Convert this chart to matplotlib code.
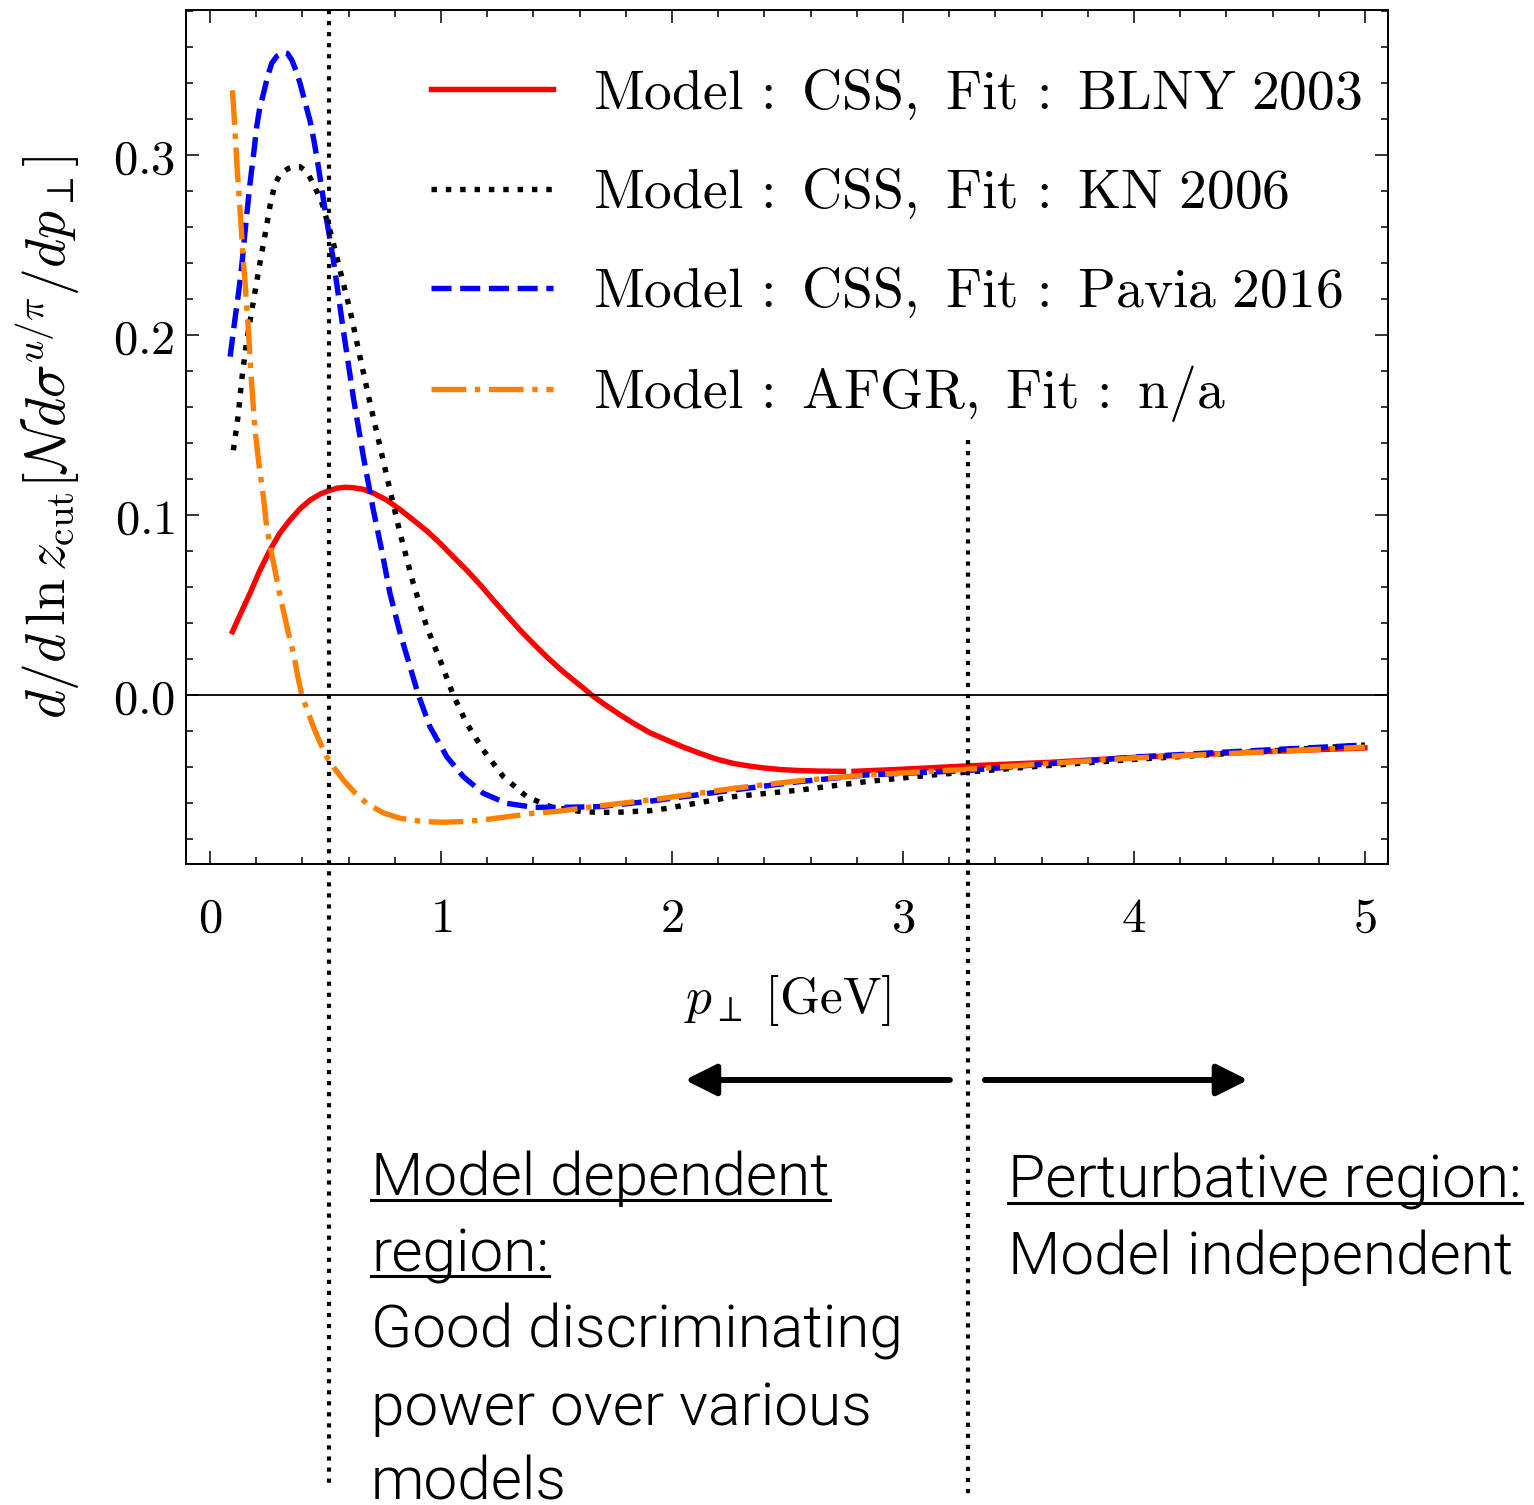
import matplotlib
matplotlib.use('Agg')
import matplotlib.pyplot as plt
from matplotlib import font_manager
from matplotlib.lines import Line2D

# values
x_blny_a = [0.097, 0.135, 0.173, 0.215, 0.26, 0.30, 0.346, 0.39, 0.433, 0.475, 0.512, 0.55,
            0.584, 0.62, 0.664, 0.71, 0.765, 0.82, 0.88, 0.94, 0.996, 1.05, 1.111, 1.17,
            1.226, 1.285, 1.342, 1.40, 1.457, 1.515, 1.573, 1.615, 1.652, 1.70, 1.775,
            1.833, 1.905, 1.977, 2.05, 2.121, 2.19, 2.265, 2.34, 2.41, 2.48, 2.554, 2.65,
            2.742]
y_blny_a = [0.0352, 0.0460, 0.0565, 0.069, 0.0806, 0.0895, 0.0972, 0.1035, 0.1083, 0.1115,
            0.1135, 0.1149, 0.1154, 0.1152, 0.1143, 0.1120, 0.1083, 0.1033, 0.0972, 0.0910,
            0.0843, 0.0772, 0.0694, 0.0612, 0.0528, 0.0443, 0.0361, 0.0285, 0.0213, 0.0145,
            0.0083, 0.0040, 0.0, -0.0045, -0.011, -0.0157, -0.021, -0.025, -0.029, -0.0324,
            -0.0355, -0.038, -0.0396, -0.0407, -0.0415, -0.042, -0.0423, -0.0424]
x_blny_b = [2.788, 2.987, 3.276, 3.636, 4.0, 4.5, 5.0]
y_blny_b = [-0.0424, -0.0413, -0.0394, -0.0374, -0.0347, -0.0318, -0.0294]

x_kn = [0.101, 0.112, 0.123, 0.137, 0.159, 0.188, 0.216, 0.24, 0.26, 0.28, 0.30, 0.32,
        0.339, 0.36, 0.39, 0.42, 0.447, 0.483, 0.527, 0.563, 0.606, 0.649, 0.693, 0.736,
        0.779, 0.823, 0.88, 0.938, 0.996, 1.053, 1.111, 1.183, 1.27, 1.371, 1.472, 1.56,
        1.616, 1.688, 1.76, 1.905, 1.977, 2.265, 2.554, 2.843, 3.131, 3.564, 4.0, 4.5, 5.0]
y_kn = [0.136, 0.146, 0.1565, 0.175, 0.197, 0.219, 0.240, 0.257, 0.272, 0.2835, 0.2885,
        0.291, 0.2925, 0.2935, 0.2935, 0.2905, 0.284, 0.274, 0.2546, 0.236, 0.2139, 0.188,
        0.162, 0.138, 0.1139, 0.0898, 0.062, 0.038, 0.0194, 0.0, -0.0157, -0.0306,
        -0.0454, -0.0565, -0.062, -0.0640, -0.0648, -0.0652, -0.0652, -0.0643, -0.063,
        -0.0565, -0.0528, -0.0481, -0.0444, -0.0398, -0.0358, -0.0318, -0.0278]

x_pavia = [0.087, 0.105, 0.123, 0.137, 0.155, 0.173, 0.19, 0.202, 0.215, 0.231, 0.25, 0.267,
           0.29, 0.317, 0.335, 0.354, 0.372, 0.39, 0.41, 0.433, 0.45, 0.469, 0.498, 0.534,
           0.577, 0.62, 0.664, 0.707, 0.743, 0.779, 0.823, 0.866, 0.902, 0.952, 1.025,
           1.097, 1.183, 1.284, 1.40, 1.544, 1.688, 1.905, 2.265, 2.554, 2.843, 3.276,
           3.564, 4.0, 4.5, 5.0]
y_pavia = [0.188, 0.206, 0.223, 0.238, 0.262, 0.284, 0.302, 0.3157, 0.326, 0.334, 0.344,
           0.351, 0.355, 0.357, 0.3565, 0.3528, 0.347, 0.3398, 0.330, 0.319, 0.308, 0.2935,
           0.2694, 0.2417, 0.2028, 0.1657, 0.1324, 0.1028, 0.0806, 0.0565, 0.0343, 0.0157,
           0.0, -0.0176, -0.0343, -0.0454, -0.0546, -0.0602, -0.0624, -0.0624, -0.062,
           -0.059, -0.0528, -0.0481, -0.0444, -0.042, -0.0389, -0.0345, -0.031, -0.0278]

x_afgr = [0.097, 0.108, 0.118, 0.13, 0.144, 0.152, 0.166, 0.18, 0.195, 0.213, 0.231, 0.245,
          0.263, 0.281, 0.299, 0.317, 0.339, 0.361, 0.379, 0.397, 0.42, 0.447, 0.475, 0.505,
          0.54, 0.577, 0.625, 0.678, 0.75, 0.823, 0.92, 1.01, 1.10, 1.183, 1.29, 1.40, 1.50,
          1.616, 1.688, 1.905, 1.977, 2.265, 2.554, 2.843, 3.276, 3.636, 4.0, 4.5, 5.0]
y_afgr = [0.336, 0.314, 0.2917, 0.2694, 0.2417, 0.2287, 0.2028, 0.1732, 0.1472, 0.1269,
          0.1102, 0.0935, 0.081, 0.0694, 0.0575, 0.0472, 0.0345, 0.0231, 0.011, 0.0, -0.008,
          -0.0176, -0.026, -0.0343, -0.041, -0.0472, -0.054, -0.0602, -0.0655, -0.0685,
          -0.0703, -0.0707, -0.0703, -0.0694, -0.0676, -0.0657, -0.0647, -0.0628, -0.0616,
          -0.0583, -0.0571, -0.0519, -0.0476, -0.0444, -0.0413, -0.038, -0.0350, -0.032,
          -0.029]

labels = [r'$\mathrm{Model\,:\ CSS,\ Fit\,:\ BLNY\ 2003}$',
          r'$\mathrm{Model\,:\ CSS,\ Fit\,:\ KN\ 2006}$',
          r'$\mathrm{Model\,:\ CSS,\ Fit\,:\ Pavia\ 2016}$',
          r'$\mathrm{Model\,:\ AFGR,\ Fit\,:\ n/a}$']

xtick_vals = [0, 1, 2, 3, 4, 5]
xtick_labels = ['$0$', '$1$', '$2$', '$3$', '$4$', '$5$']
ytick_vals = [0.0, 0.1, 0.2, 0.3]
ytick_labels = ['$0.0$', '$0.1$', '$0.2$', '$0.3$']

cut_low = 0.515
cut_high = 3.28

plt.rcParams['mathtext.fontset'] = 'cm'
plt.rcParams['font.family'] = ['DejaVu Serif']

W, H = 1534, 1505
fig = plt.figure(figsize=(W / 100, H / 100), dpi=100)
ax = fig.add_axes([186 / W, 1 - 864 / H, 1202 / W, 854 / H])

lw = 3.9
ax.plot(x_blny_a, y_blny_a, color='#ff0000', lw=lw, ls='-', label=labels[0])
ax.plot(x_blny_b, y_blny_b, color='#ff0000', lw=lw, ls='-')
ax.plot(x_kn, y_kn, color='black', lw=lw, ls=':', label=labels[1])
ax.plot(x_pavia, y_pavia, color='#0000ff', lw=lw, ls='--', label=labels[2])
ax.plot(x_afgr, y_afgr, color='#ff8000', lw=lw, ls='-.', label=labels[3])

ax.axhline(0, color='black', lw=1.3)

ax.set_xlim(-0.104, 5.1)
ax.set_ylim(-0.0939, 0.3806)

# vertical boundaries, running below the axes
ax.plot([cut_low, cut_low], [0.3806, -0.439], color='black', ls=':', lw=3.0, clip_on=False)
ax.plot([cut_high, cut_high], [0.1417, -0.444], color='black', ls=':', lw=3.0, clip_on=False)

# arrows
arr = dict(arrowstyle='-|>', lw=4.3, color='black', mutation_scale=48,
           shrinkA=0, shrinkB=0)
ax.annotate('', xy=(2.056, -0.2139), xytext=(3.203, -0.2139), arrowprops=arr,
            annotation_clip=False)
ax.annotate('', xy=(4.494, -0.2139), xytext=(3.355, -0.2139), arrowprops=arr,
            annotation_clip=False)

ax.set_xticks(xtick_vals)
ax.set_xticklabels(xtick_labels)
ax.set_yticks(ytick_vals)
ax.set_yticklabels(ytick_labels)
ax.xaxis.set_minor_locator(matplotlib.ticker.MultipleLocator(0.2))
ax.yaxis.set_minor_locator(matplotlib.ticker.MultipleLocator(0.02))
ax.tick_params(which='both', direction='in', top=True, right=True, width=1.1)
ax.tick_params(which='major', length=9.5)
ax.tick_params(which='minor', length=5)
ax.tick_params(axis='x', labelsize=35, pad=22)
ax.tick_params(axis='y', labelsize=35, pad=8)
for s in ax.spines.values():
    s.set_linewidth(1.4)

ax.set_xlabel(r'$p_\perp\;[\mathrm{GeV}]$', fontsize=37, labelpad=22)
ax.set_ylabel(r'$d/d\,\ln z_{\mathrm{cut}}[\mathcal{N}d\sigma^{u/\pi}/dp_\perp]$',
              fontsize=40, labelpad=22)

ax.legend(loc='upper right', bbox_to_anchor=(0.9967, 0.9602), frameon=False, fontsize=40,
          handlelength=2.2, handletextpad=0.72, labelspacing=0.78, borderaxespad=0)


def pick_light():
    for n in ['Roboto', 'Lato', 'Open Sans', 'Inter', 'Noto Sans']:
        for f in font_manager.fontManager.ttflist:
            if f.name == n and f.weight in (200, 300, 'light'):
                return n, 300
    return 'Liberation Sans', 'normal'


fam, wt = pick_light()
tsize = 43.5

lines_left = [('Model dependent', 1195, True), ('region:', 1271, True),
              ('Good discriminating', 1348, False), ('power over various', 1425, False),
              ('models', 1500, False)]
lines_right = [('Perturbative region:', 1198, True), ('Model independent', 1274, False)]

texts = []
for s, yb, ul in lines_left:
    t = fig.text(371 / W, 1 - yb / H, s, fontsize=tsize, family=fam, weight=wt,
                 va='baseline', ha='left')
    texts.append((t, yb, ul))
for s, yb, ul in lines_right:
    t = fig.text(1008 / W, 1 - yb / H, s, fontsize=tsize, family=fam, weight=wt,
                 va='baseline', ha='left')
    texts.append((t, yb, ul))

fig.canvas.draw()
r = fig.canvas.get_renderer()
for t, yb, ul in texts:
    if not ul:
        continue
    bb = t.get_window_extent(r)
    yl = 1 - (yb + 5) / H
    fig.add_artist(Line2D([bb.x0 / W, bb.x1 / W], [yl, yl], color='black', lw=2.2,
                          transform=fig.transFigure))

fig.savefig('out.png', dpi=100)
